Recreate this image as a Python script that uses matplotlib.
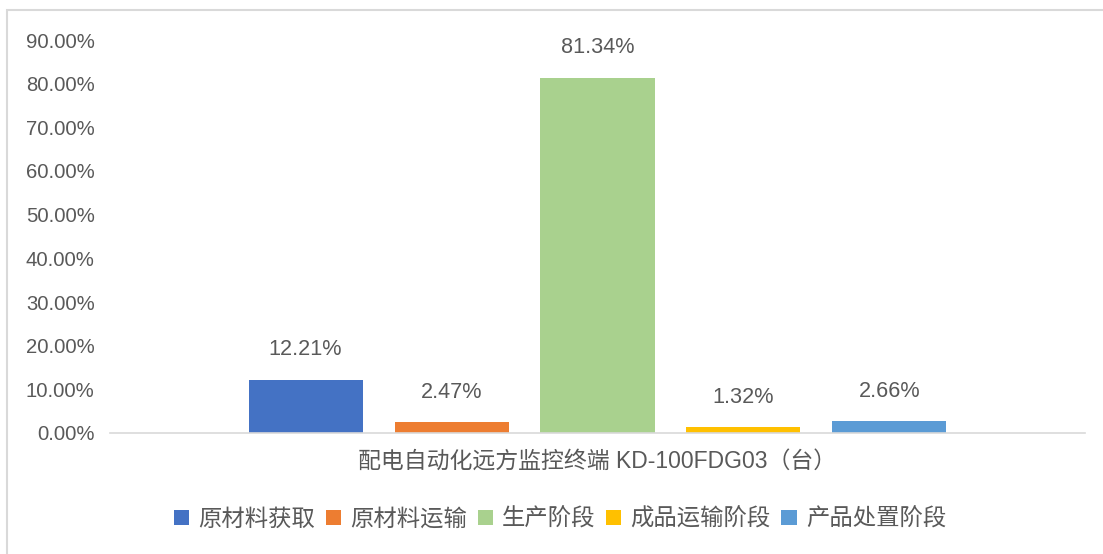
import matplotlib.pyplot as plt
from matplotlib.patches import Rectangle
from matplotlib.ticker import FuncFormatter

plt.rcParams['font.family'] = ['Liberation Sans', 'Noto Sans CJK SC']

# data
stages = ['原材料获取', '原材料运输', '生产阶段', '成品运输阶段', '产品处置阶段']
values = [12.21, 2.47, 81.34, 1.32, 2.66]
colors = ['#4472C4', '#ED7D31', '#A9D18E', '#FFC000', '#5B9BD5']
category = '配电自动化远方监控终端 KD-100FDG03（台）'

txt = '#595959'

fig = plt.figure(figsize=(11.03, 5.54), dpi=100)
# chart border (light grey frame)
fig.patches.append(Rectangle((7 / 1103, -0.01), 1.02, 1 - 10 / 554 + 0.01,
                             transform=fig.transFigure, fill=False,
                             edgecolor='#D9D9D9', linewidth=1.5))

ax = fig.add_axes([110 / 1103, 1 - 433 / 554, 975 / 1103, 393 / 554])

step = 0.1497
width = 0.117
for i, (name, v, c) in enumerate(zip(stages, values, colors)):
    x = (i - 2) * step
    ax.bar(x, v, width=width, color=c, label=name)
    ax.annotate(f'{v:.2f}%', (x, v), xytext=(0, 14), textcoords='offset points',
                ha='center', va='bottom', fontsize=15.6, color=txt)

ax.set_xlim(-0.5, 0.5)
ax.set_ylim(0, 90)
ax.set_yticks(range(0, 91, 10))
ax.yaxis.set_major_formatter(FuncFormatter(lambda y, p: f'{y:.2f}%'))
ax.tick_params(axis='y', length=0, labelsize=14.6, labelcolor=txt, pad=11)
ax.set_xticks([0])
ax.set_xticklabels([category])
ax.tick_params(axis='x', length=0, labelsize=16.5, labelcolor=txt, pad=12)

for s in ['top', 'right', 'left']:
    ax.spines[s].set_visible(False)
ax.spines['bottom'].set_color('#D9D9D9')
ax.spines['bottom'].set_linewidth(1.2)

fig.legend(loc='center', bbox_to_anchor=(560 / 1103, 1 - 519 / 554), ncol=5,
           frameon=False, fontsize=16.8, labelcolor=txt, handlelength=0.65,
           handleheight=0.65, handletextpad=0.4, columnspacing=0.45)

fig.savefig('out.png', dpi=100)
